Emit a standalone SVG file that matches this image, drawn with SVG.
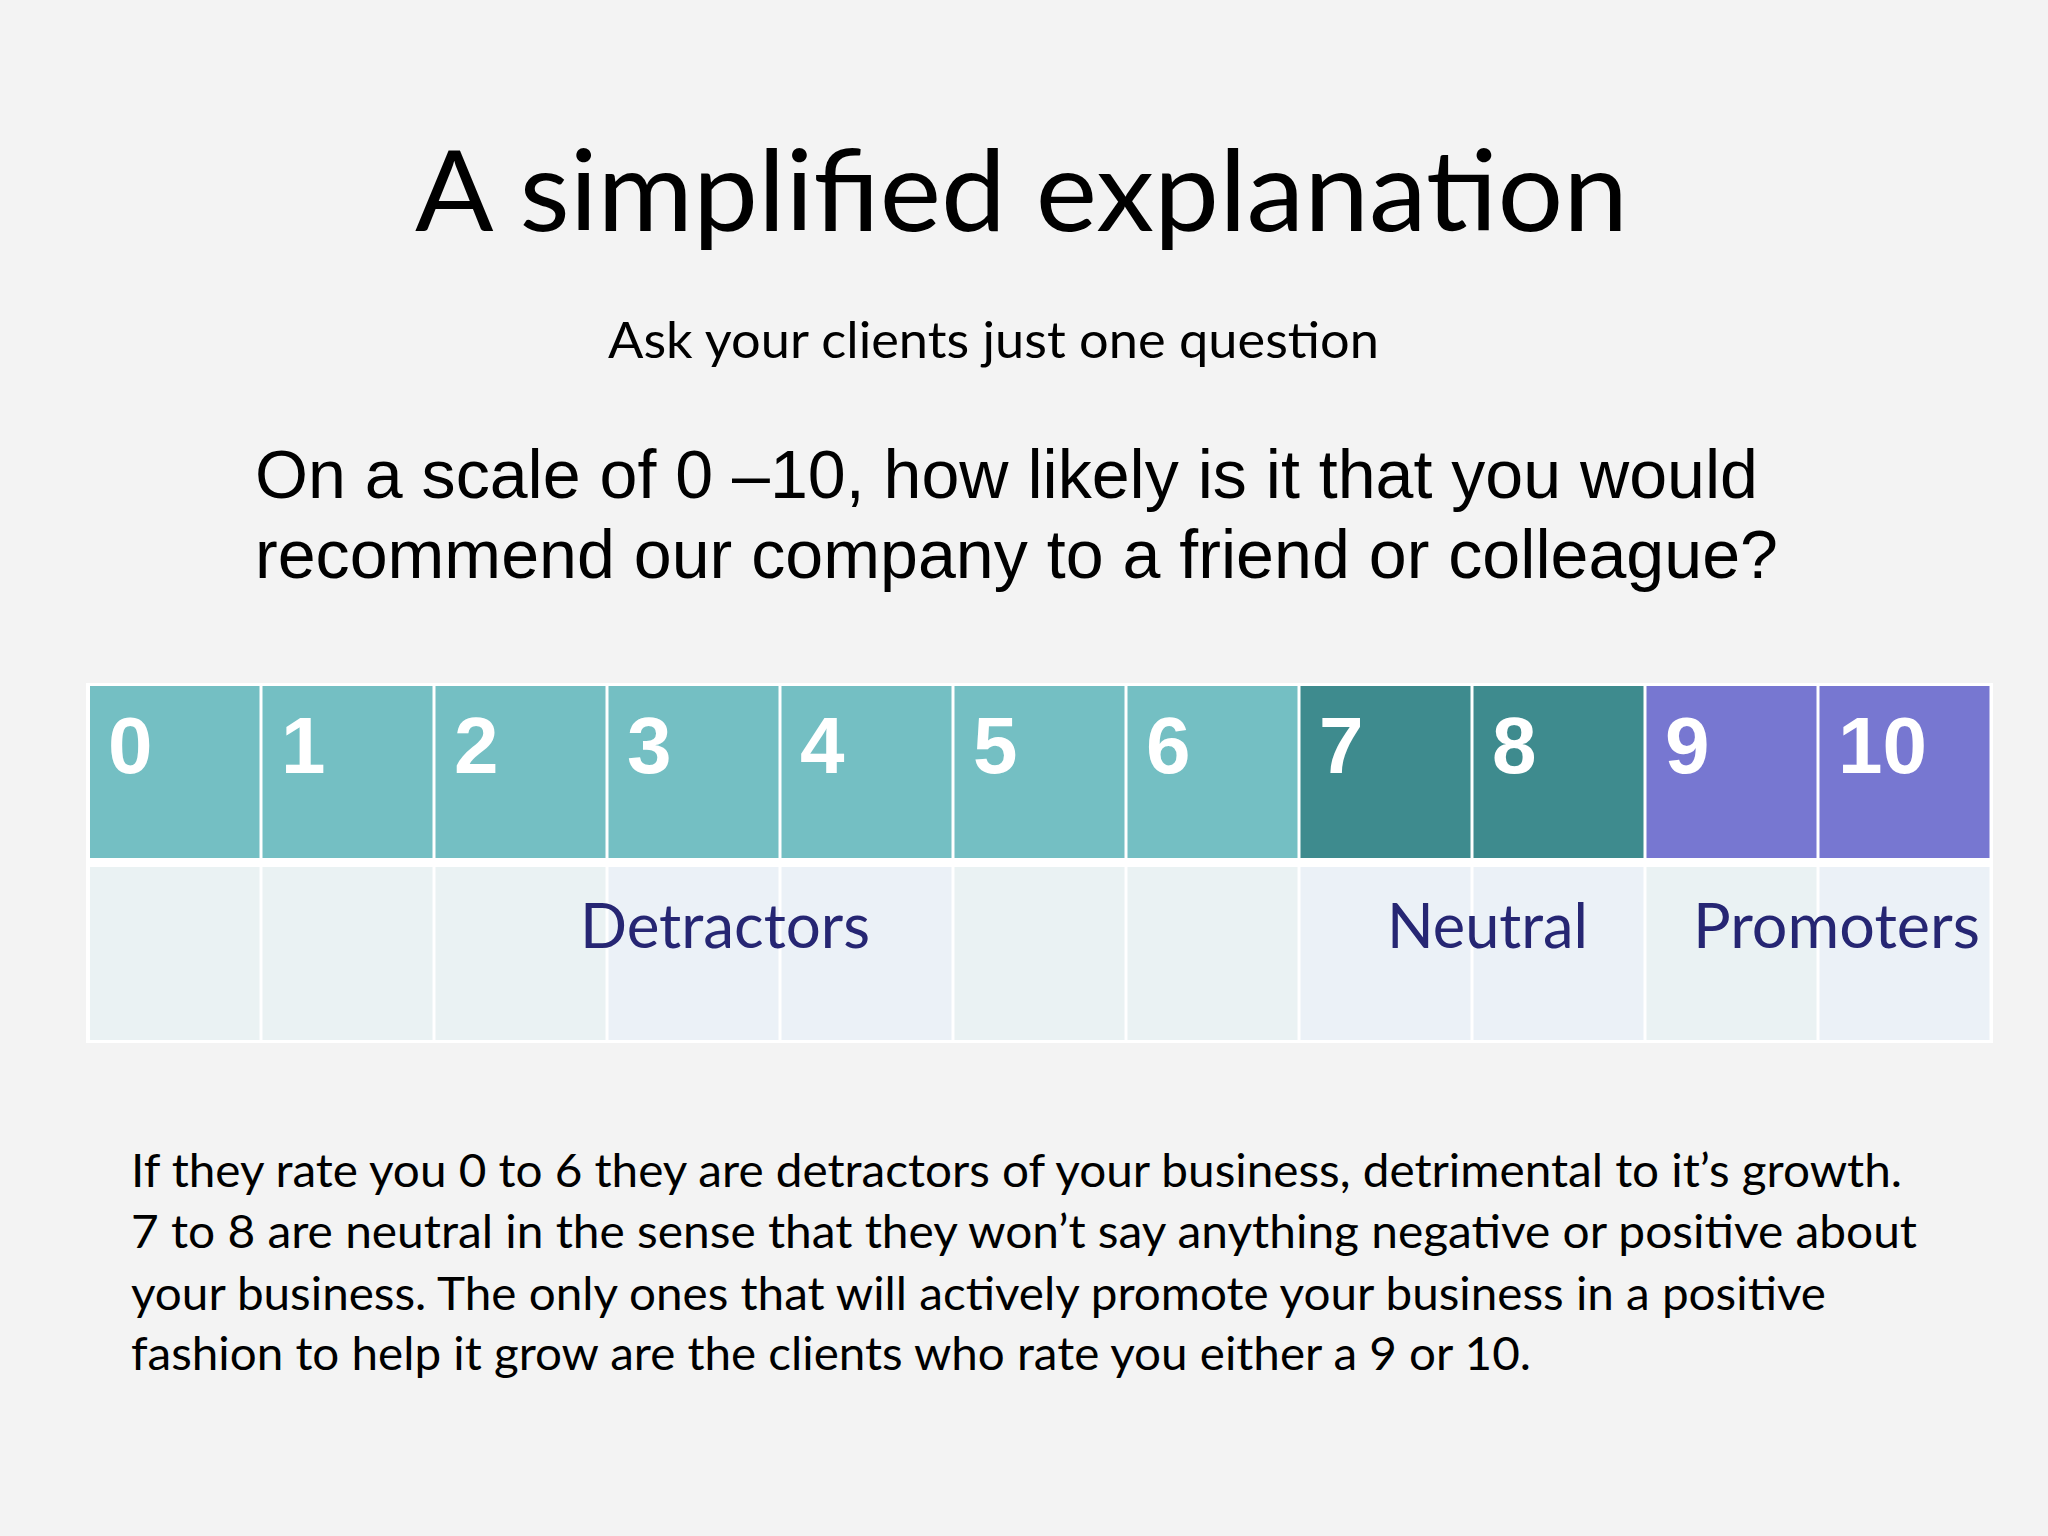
<svg xmlns="http://www.w3.org/2000/svg" width="2048" height="1536" viewBox="0 0 2048 1536">
<style>
.bg{fill:#F3F3F3}
.hd{fill:#74BFC3}
.hd2{fill:#3E8B8E}
.hd3{fill:#7777D1}
.lo{fill:#EAF2F3}
.lo2{fill:#EBF1F7}
.num{font-family:"Liberation Sans",Arial,sans-serif;font-weight:bold;font-size:80px;fill:#FFFFFF}
.cat{font-family:Lato,"Open Sans",sans-serif;font-size:62px;fill:#262673}
.title{font-family:Lato,"Open Sans",sans-serif;font-size:112px;fill:#000000}
.sub{font-family:Lato,"Open Sans",sans-serif;font-size:51px;fill:#000000}
.q{font-family:"Liberation Sans",Arial,sans-serif;font-size:69px;fill:#000000}
.body{font-family:Lato,"Open Sans",sans-serif;font-size:46px;fill:#000000}
</style>
<rect class="bg" x="0" y="0" width="2048" height="1536"/>
<g id="title">
<text class="title" x="415" y="231" textLength="1213" lengthAdjust="spacingAndGlyphs">A simplified explanation</text>
</g>
<g id="subtitle">
<text class="sub" x="608" y="358" textLength="771" lengthAdjust="spacingAndGlyphs">Ask your clients just one question</text>
</g>
<g id="question">
<text class="q" x="255" y="498" textLength="1503" lengthAdjust="spacingAndGlyphs">On a scale of 0 –10, how likely is it that you would</text>
<text class="q" x="255" y="578" textLength="1523" lengthAdjust="spacingAndGlyphs">recommend our company to a friend or colleague?</text>
</g>
<g id="table">
<rect x="86" y="683" width="1907" height="360" fill="#FFFFFF"/>
<g id="cell-0"><rect class="hd" x="90" y="686" width="169.5" height="172"/><text class="num" x="108" y="773">0</text></g>
<g id="cell-1"><rect class="hd" x="262.5" y="686" width="170" height="172"/><text class="num" x="281" y="773">1</text></g>
<g id="cell-2"><rect class="hd" x="435.5" y="686" width="170" height="172"/><text class="num" x="454" y="773">2</text></g>
<g id="cell-3"><rect class="hd" x="608.5" y="686" width="170" height="172"/><text class="num" x="627" y="773">3</text></g>
<g id="cell-4"><rect class="hd" x="781.5" y="686" width="170" height="172"/><text class="num" x="800" y="773">4</text></g>
<g id="cell-5"><rect class="hd" x="954.5" y="686" width="170" height="172"/><text class="num" x="973" y="773">5</text></g>
<g id="cell-6"><rect class="hd" x="1127.5" y="686" width="170" height="172"/><text class="num" x="1146" y="773">6</text></g>
<g id="cell-7"><rect class="hd2" x="1300.5" y="686" width="170" height="172"/><text class="num" x="1319" y="773">7</text></g>
<g id="cell-8"><rect class="hd2" x="1473.5" y="686" width="170" height="172"/><text class="num" x="1492" y="773">8</text></g>
<g id="cell-9"><rect class="hd3" x="1646.5" y="686" width="170" height="172"/><text class="num" x="1665" y="773">9</text></g>
<g id="cell-10"><rect class="hd3" x="1819.5" y="686" width="170" height="172"/><text class="num" x="1838" y="773">10</text></g>
<g id="lower-row">
<rect class="lo" x="90" y="867" width="169.5" height="173"/>
<rect class="lo" x="262.5" y="867" width="170" height="173"/>
<rect class="lo" x="435.5" y="867" width="170" height="173"/>
<rect class="lo2" x="608.5" y="867" width="170" height="173"/>
<rect class="lo2" x="781.5" y="867" width="170" height="173"/>
<rect class="lo" x="954.5" y="867" width="170" height="173"/>
<rect class="lo" x="1127.5" y="867" width="170" height="173"/>
<rect class="lo2" x="1300.5" y="867" width="170" height="173"/>
<rect class="lo2" x="1473.5" y="867" width="170" height="173"/>
<rect class="lo" x="1646.5" y="867" width="170" height="173"/>
<rect class="lo2" x="1819.5" y="867" width="170" height="173"/>
</g>
<g id="labels">
<text class="cat" x="580" y="948" textLength="290" lengthAdjust="spacingAndGlyphs">Detractors</text>
<text class="cat" x="1387" y="948" textLength="201" lengthAdjust="spacingAndGlyphs">Neutral</text>
<text class="cat" x="1693" y="948" textLength="287" lengthAdjust="spacingAndGlyphs">Promoters</text>
</g>
</g>
<g id="connectors"></g>
<g id="explanation">
<text class="body" x="131" y="1187" textLength="1771" lengthAdjust="spacingAndGlyphs">If they rate you 0 to 6 they are detractors of your business, detrimental to it’s growth.</text>
<text class="body" x="131" y="1248" textLength="1786" lengthAdjust="spacingAndGlyphs">7 to 8  are neutral in the sense that they won’t say anything negative or positive about</text>
<text class="body" x="131" y="1310" textLength="1695" lengthAdjust="spacingAndGlyphs">your business. The only ones that will actively promote your business in a positive</text>
<text class="body" x="131" y="1370" textLength="1400" lengthAdjust="spacingAndGlyphs">fashion to help it grow are the clients who rate you either a 9 or 10.</text>
</g>
</svg>
